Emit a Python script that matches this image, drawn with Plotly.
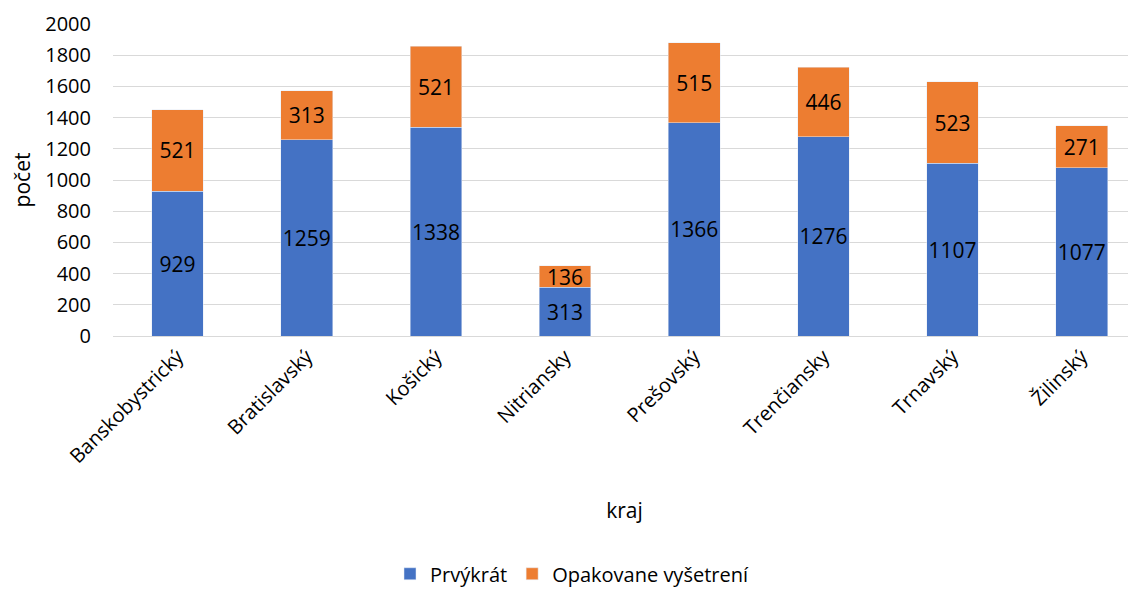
import plotly.graph_objects as go

# Categories and values
kraje = ['Banskobystrický', 'Bratislavský', 'Košický', 'Nitriansky',
         'Prešovský', 'Trenčiansky', 'Trnavský', 'Žilinský']
prvykrat = [929, 1259, 1338, 313, 1366, 1276, 1107, 1077]
opakovane = [521, 313, 521, 136, 515, 446, 523, 271]

font = 'Open Sans'

fig = go.Figure()
fig.add_trace(go.Bar(
    x=kraje, y=prvykrat, name='Prvýkrát',
    marker_color='#4472C4',
    text=prvykrat, textposition='inside', insidetextanchor='middle',
    textangle=0, constraintext='none',
    textfont=dict(color='black', size=21, family=font),
))
fig.add_trace(go.Bar(
    x=kraje, y=opakovane, name='Opakovane vyšetrení',
    marker_color='#ED7D31',
    text=opakovane, textposition='inside', insidetextanchor='middle',
    textangle=0, constraintext='none',
    textfont=dict(color='black', size=21, family=font),
))

# page body has an 8px margin, so the figure is a bit smaller than the window
fig.update_layout(
    barmode='stack',
    bargap=0.6,
    width=1128, height=581,
    margin=dict(l=105, r=0, t=16, b=253, autoexpand=False),
    plot_bgcolor='white',
    paper_bgcolor='white',
    font=dict(family=font, size=20, color='black'),
    uniformtext=dict(minsize=21, mode='show'),
    xaxis=dict(
        title=dict(text='kraj', font=dict(size=21), standoff=35),
        tickangle=-45, tickfont=dict(size=20),
        range=[-0.5, 7.42], automargin=False,
        showline=True, linecolor='#d9d9d9', linewidth=1,
    ),
    yaxis=dict(
        title=dict(text='počet', font=dict(size=21), standoff=10),
        range=[0, 2000], dtick=200, tickfont=dict(size=20),
        gridcolor='#d9d9d9', zeroline=False, ticks='', ticklen=0,
        ticklabelstandoff=21, automargin=False,
    ),
    legend=dict(
        orientation='h', xref='container', x=0.5, xanchor='center',
        y=-0.762, yanchor='middle',
        font=dict(size=20), traceorder='normal', itemwidth=30,
    ),
)

fig.write_html('out.html')
